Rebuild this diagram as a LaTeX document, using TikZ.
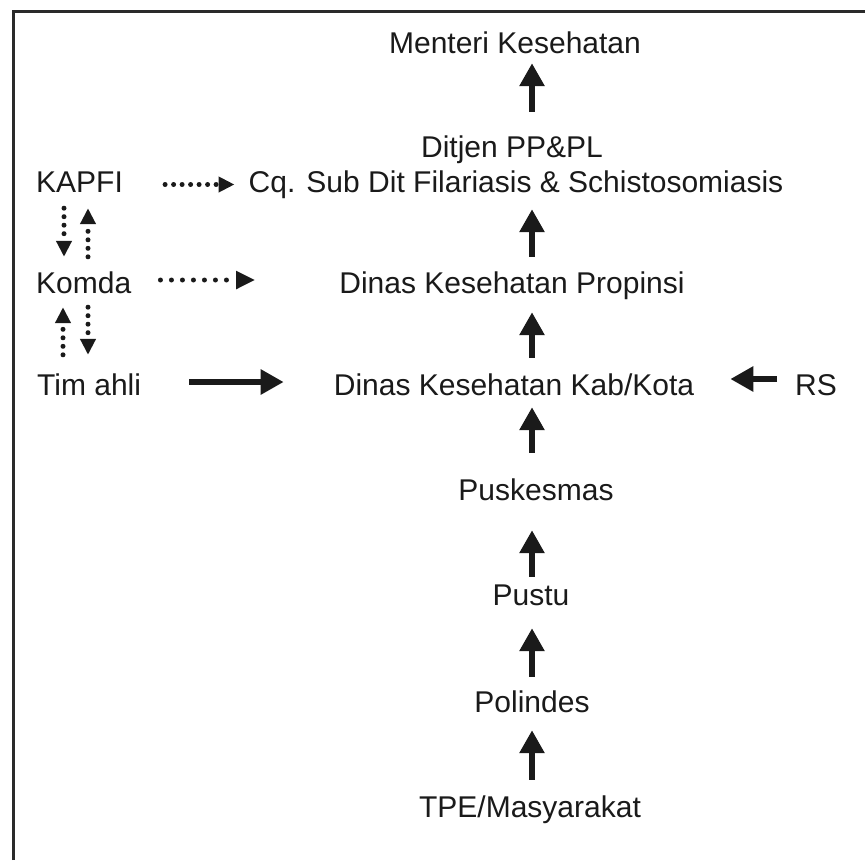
\documentclass[tikz,border=0pt]{standalone}
\usepackage{fontspec}
\setmainfont{Liberation Sans}
\usetikzlibrary{arrows.meta}
\definecolor{ink}{HTML}{1A1A1A}
\definecolor{frame}{HTML}{2A2A2A}
\begin{document}
\begin{tikzpicture}[x=1pt,y=-1pt,
  lbl/.style={inner sep=0pt, text height=21pt, text depth=6pt, font=\fontsize{30}{34}\selectfont, text=ink, anchor=base},
  lblw/.style={lbl, anchor=base west},
  bigarrow/.style={draw=ink, line width=6pt, -{Triangle[length=23pt,width=24pt]}},
  dotarrow/.style={draw=ink, line width=5pt, line cap=round, dash pattern=on 0pt off 8.5pt, -{Triangle[length=16pt,width=15pt]}},
]
\useasboundingbox (0,0) rectangle (865,860);
\fill[white] (0,0) rectangle (865,860);
% frame
\draw[frame, line width=3pt] (13,860) -- (13,11) -- (866,11);

% nodes
\node[lbl] (menteri) at (515,53) {Menteri Kesehatan};
\node[lbl] (ditjen) at (512,157) {Ditjen PP\&PL};
\node[lbl] (cq) at (516,192) {Cq. Sub Dit Filariasis \& Schistosomiasis};
\node[lblw] (kapfi) at (36,192) {KAPFI};
\node[lblw] (komda) at (36,293) {Komda};
\node[lbl] (propinsi) at (512,293) {Dinas Kesehatan Propinsi};
\node[lblw] (tim) at (37,395) {Tim ahli};
\node[lbl] (kab) at (514,395) {Dinas Kesehatan Kab/Kota};
\node[lblw] (rs) at (795,395) {RS};
\node[lbl] (pusk) at (536,500) {Puskesmas};
\node[lbl] (pustu) at (531,605) {Pustu};
\node[lbl] (polindes) at (532,712) {Polindes};
\node[lbl] (tpe) at (530,817) {TPE/Masyarakat};

\coordinate (ax) at (532,0);
\coordinate (la) at (64,0);
\coordinate (lb) at (88,0);
\coordinate (lc) at (63,0);

% main vertical arrows
\draw[bigarrow, shorten <=24pt, shorten >=4pt] (ditjen.north -| ax) -- (menteri.south -| ax);
\draw[bigarrow, shorten <=15pt, shorten >=11pt] (propinsi.north -| ax) -- (cq.south -| ax);
\draw[bigarrow, shorten <=16pt, shorten >=13pt] (kab.north -| ax) -- (propinsi.south -| ax);
\draw[bigarrow, shorten <=26pt, shorten >=6pt] (pusk.north -| ax) -- (kab.south -| ax);
\draw[bigarrow, shorten <=7pt, shorten >=24pt] (pustu.north -| ax) -- (pusk.south -| ax);
\draw[bigarrow, shorten <=14pt, shorten >=17pt] (polindes.north -| ax) -- (pustu.south -| ax);
\draw[bigarrow, shorten <=16pt, shorten >=12pt] (tpe.north -| ax) -- (polindes.south -| ax);

% horizontal arrows
\draw[dotarrow, shorten <=42pt, shorten >=14pt] (kapfi.east) -- (kapfi.east -| cq.west);
\draw[dotarrow, dash pattern=on 0pt off 11pt, -{Triangle[length=19pt,width=17pt]}, shorten <=29pt, shorten >=84pt] ([yshift=5.5pt]komda.east) -- ([yshift=5.5pt]komda.east -| propinsi.west);
\draw[bigarrow, shorten <=48pt, shorten >=50pt] ([yshift=5.5pt]tim.east) -- ([yshift=5.5pt]tim.east -| kab.west);
\draw[bigarrow, shorten <=18pt, shorten >=36pt] ([yshift=8.5pt]rs.west) -- ([yshift=8.5pt]rs.west -| kab.east);

% left vertical dotted arrows
\draw[dotarrow, shorten <=10pt, shorten >=15pt] (kapfi.south -| la) -- (komda.north -| la);
\draw[dotarrow, shorten <=15pt, shorten >=10pt] (komda.north -| lb) -- (kapfi.south -| lb);
\draw[dotarrow, shorten <=19pt, shorten >=8pt] (tim.north -| lc) -- (komda.south -| lc);
\draw[dotarrow, shorten <=8pt, shorten >=19pt] (komda.south -| lb) -- (tim.north -| lb);
\end{tikzpicture}
\end{document}
